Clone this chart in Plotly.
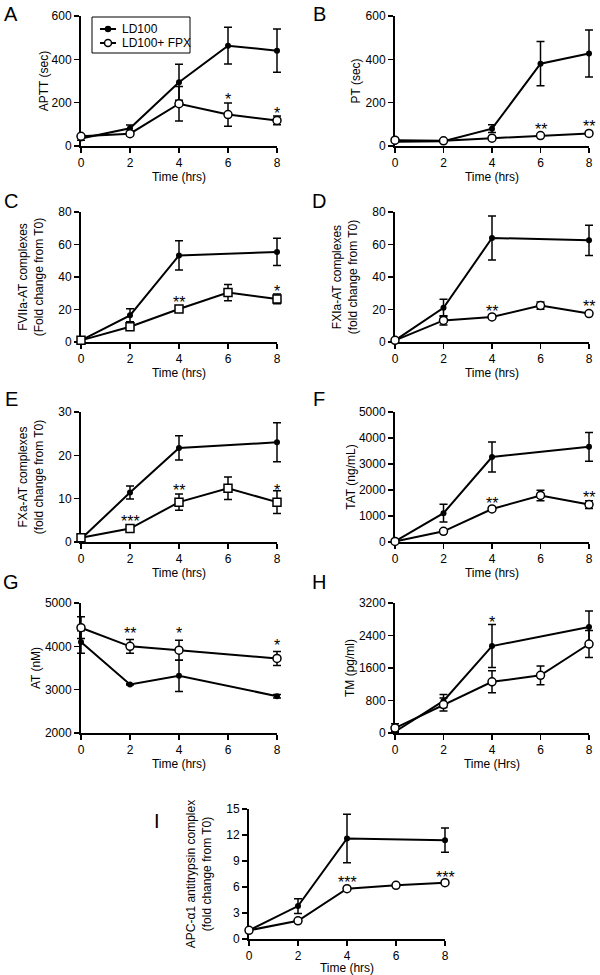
import plotly.graph_objects as go

# ---------------- data ----------------
t_all = [0, 2, 4, 6, 8]
t_no6 = [0, 2, 4, 8]
x_ticks = [0, 2, 4, 6, 8]

# A: APTT (sec)
aptt_ld = [35, 82, 294, 463, 440]
aptt_ld_err = [8, 15, 83, 85, 100]
aptt_fpx = [45, 57, 195, 145, 118]
aptt_fpx_err = [5, 8, 80, 54, 20]
aptt_star_t = [6, 8]
aptt_star_y = [227, 166]
aptt_star_txt = ["*", "*"]

# B: PT (sec)
pt_ld = [20, 22, 80, 380, 427]
pt_ld_err = [3, 3, 18, 102, 108]
pt_fpx = [27, 24, 36, 48, 58]
pt_fpx_err = [2, 2, 3, 3, 4]
pt_star_t = [6, 8]
pt_star_y = [92, 105]
pt_star_txt = ["**", "**"]

# C: FVIIa-AT complexes
fviia_ld = [1, 16.4, 53.3, 55.4]
fviia_ld_err = [0.5, 4, 9, 8.4]
fviia_fpx = [1, 9.4, 20.3, 30.4, 26.5]
fviia_fpx_err = [0.5, 1.5, 1, 5, 3]
fviia_star_t = [4, 8]
fviia_star_y = [26.3, 33]
fviia_star_txt = ["**", "*"]

# D: FXIa-AT complexes
fxia_ld = [1, 21, 64, 62.6]
fxia_ld_err = [0.5, 5.3, 13.5, 9.3]
fxia_fpx = [1, 13.3, 15.4, 22.4, 17.5]
fxia_fpx_err = [0.5, 2.8, 1, 2.2, 1]
fxia_star_t = [4, 8]
fxia_star_y = [20.9, 23.4]
fxia_star_txt = ["**", "**"]

# E: FXa-AT complexes
fxa_ld = [0.7, 11.4, 21.7, 23.0]
fxa_ld_err = [0.2, 1.5, 2.8, 4.5]
fxa_fpx = [1.0, 3.1, 9.2, 12.4, 9.2]
fxa_fpx_err = [0.2, 0.3, 1.9, 2.6, 2.6]
fxa_star_t = [2, 4, 8]
fxa_star_y = [5.5, 12.6, 12.6]
fxa_star_txt = ["***", "**", "*"]

# F: TAT (ng/mL)
tat_ld = [25, 1110, 3270, 3660]
tat_ld_err = [10, 340, 580, 550]
tat_fpx = [20, 410, 1270, 1790, 1440]
tat_fpx_err = [10, 40, 70, 200, 150]
tat_star_t = [4, 8]
tat_star_y = [1590, 1820]
tat_star_txt = ["**", "**"]

# G: AT (nM)
at_ld = [4100, 3120, 3320, 2850]
at_ld_err = [260, 15, 360, 40]
at_fpx = [4430, 4000, 3910, 3720]
at_fpx_err = [250, 160, 230, 160]
at_star_t = [2, 4, 8]
at_star_y = [4369, 4354, 4100]
at_star_txt = ["**", "*", "*"]

# H: TM (pg/ml)
tm_ld = [30, 790, 2140, 2610]
tm_ld_err = [20, 160, 530, 390]
tm_fpx = [120, 700, 1260, 1420, 2190]
tm_fpx_err = [110, 160, 270, 230, 330]
tm_star_t = [4]
tm_star_y = [2797]
tm_star_txt = ["*"]

# I: APC-a1 antitrypsin complex
apc_ld = [1.0, 3.8, 11.6, 11.4]
apc_ld_err = [0.1, 0.85, 2.8, 1.4]
apc_fpx = [1.0, 2.1, 5.8, 6.2, 6.5]
apc_fpx_err = [0.1, 0.1, 0.1, 0.1, 0.1]
apc_star_t = [4, 8]
apc_star_y = [6.85, 7.42]
apc_star_txt = ["***", "***"]

series_names = ["LD100", "LD100+ FPX"]

# ---------------- layout helpers ----------------
FW, FH = 600, 975
FONT = "Liberation Sans, Arial, Helvetica, sans-serif"
XPAD = 0.3  # extra x-range for the hidden data axis so error caps are not clipped


def px(x):
    return x / FW


def py(y):
    return 1 - y / FH


def xd(a, b):
    return [px(a), px(b)]


def yd(top, bottom):
    return [py(bottom), py(top)]


def padded(dom):
    ppu = (dom[1] - dom[0]) / 8.0
    return [dom[0] - XPAD * ppu, dom[1] + XPAD * ppu]


LEFT = xd(81, 277)
RIGHT = xd(395, 589)
MID = xd(249, 445)
ROWS = [yd(16, 146), yd(212, 342), yd(412, 542), yd(603, 733), yd(809, 939)]

panels = [
    dict(letter="A", lpos=(11, 14), xdom=LEFT, ydom=ROWS[0],
         ld_t=t_all, ld=aptt_ld, ld_err=aptt_ld_err,
         fx_t=t_all, fx=aptt_fpx, fx_err=aptt_fpx_err, sym="circle",
         yr=[0, 600], dt=200, ytitle="APTT (sec)", ys=0, xtitle="Time (hrs)",
         st=aptt_star_t, sy=aptt_star_y, stx=aptt_star_txt),
    dict(letter="B", lpos=(319, 14), xdom=RIGHT, ydom=ROWS[0],
         ld_t=t_all, ld=pt_ld, ld_err=pt_ld_err,
         fx_t=t_all, fx=pt_fpx, fx_err=pt_fpx_err, sym="circle",
         yr=[0, 600], dt=200, ytitle="PT (sec)", ys=2, xtitle="Time (hrs)",
         st=pt_star_t, sy=pt_star_y, stx=pt_star_txt),
    dict(letter="C", lpos=(11, 201), xdom=LEFT, ydom=ROWS[1],
         ld_t=t_no6, ld=fviia_ld, ld_err=fviia_ld_err,
         fx_t=t_all, fx=fviia_fpx, fx_err=fviia_fpx_err, sym="square",
         yr=[0, 80], dt=20,
         ytitle="FVIIa-AT complexes<br>(Fold change from T0)", ys=12, xtitle="Time (hrs)",
         st=fviia_star_t, sy=fviia_star_y, stx=fviia_star_txt),
    dict(letter="D", lpos=(319, 201), xdom=RIGHT, ydom=ROWS[1],
         ld_t=t_no6, ld=fxia_ld, ld_err=fxia_ld_err,
         fx_t=t_all, fx=fxia_fpx, fx_err=fxia_fpx_err, sym="circle",
         yr=[0, 80], dt=20,
         ytitle="FXIa-AT complexes<br>(fold change from T0)", ys=12, xtitle="Time (hrs)",
         st=fxia_star_t, sy=fxia_star_y, stx=fxia_star_txt),
    dict(letter="E", lpos=(11, 399), xdom=LEFT, ydom=ROWS[2],
         ld_t=t_no6, ld=fxa_ld, ld_err=fxa_ld_err,
         fx_t=t_all, fx=fxa_fpx, fx_err=fxa_fpx_err, sym="square",
         yr=[0, 30], dt=10,
         ytitle="FXa-AT complexes<br>(fold change from T0)", ys=12, xtitle="Time (hrs)",
         st=fxa_star_t, sy=fxa_star_y, stx=fxa_star_txt),
    dict(letter="F", lpos=(319, 399), xdom=RIGHT, ydom=ROWS[2],
         ld_t=t_no6, ld=tat_ld, ld_err=tat_ld_err,
         fx_t=t_all, fx=tat_fpx, fx_err=tat_fpx_err, sym="circle",
         yr=[0, 5000], dt=1000, ytitle="TAT (ng/mL)", ys=1, xtitle="Time (hrs)",
         st=tat_star_t, sy=tat_star_y, stx=tat_star_txt),
    dict(letter="G", lpos=(11, 582), xdom=LEFT, ydom=ROWS[3],
         ld_t=t_no6, ld=at_ld, ld_err=at_ld_err,
         fx_t=t_no6, fx=at_fpx, fx_err=at_fpx_err, sym="circle",
         yr=[2000, 5000], dt=1000, ytitle="AT (nM)", ys=2, xtitle="Time (hrs)",
         st=at_star_t, sy=at_star_y, stx=at_star_txt),
    dict(letter="H", lpos=(319, 582), xdom=RIGHT, ydom=ROWS[3],
         ld_t=t_no6, ld=tm_ld, ld_err=tm_ld_err,
         fx_t=t_all, fx=tm_fpx, fx_err=tm_fpx_err, sym="circle",
         yr=[0, 3200], dt=800, ytitle="TM (pg/ml)", ys=2, xtitle="Time (Hrs)",
         st=tm_star_t, sy=tm_star_y, stx=tm_star_txt),
    dict(letter="I", lpos=(157, 821), xdom=MID, ydom=ROWS[4],
         ld_t=t_no6, ld=apc_ld, ld_err=apc_ld_err,
         fx_t=t_all, fx=apc_fpx, fx_err=apc_fpx_err, sym="circle",
         yr=[0, 15], dt=3,
         ytitle="APC-α1 antitrypsin complex<br>(fold change from T0)", ys=12, xtitle="Time (hrs)",
         st=apc_star_t, sy=apc_star_y, stx=apc_star_txt),
]

NP = len(panels)
fig = go.Figure()
annotations = []
shapes = []
layout = {}

axis_common = dict(
    showline=True, linecolor="black", linewidth=2,
    ticks="outside", ticklen=5, tickwidth=1.5, tickcolor="black",
    showgrid=False, zeroline=False, automargin=False, layer="below traces",
    tickfont=dict(family=FONT, size=12, color="black"),
)
err_style = dict(type="data", thickness=1.5, width=4, color="black")
ld_marker = dict(symbol="circle", size=6, color="black")

for i, p in enumerate(panels):
    n = "" if i == 0 else str(i + 1)
    hn = str(i + 1 + NP)
    xa, ya, hx = "x" + n, "y" + n, "x" + hn
    fig.add_trace(go.Scatter(
        x=p["ld_t"], y=p["ld"], xaxis=hx, yaxis=ya,
        mode="lines+markers", name=series_names[0],
        line=dict(color="black", width=2), marker=ld_marker,
        error_y=dict(array=p["ld_err"], **err_style),
        cliponaxis=False, showlegend=False,
    ))
    fig.add_trace(go.Scatter(
        x=p["fx_t"], y=p["fx"], xaxis=hx, yaxis=ya,
        mode="lines+markers", name=series_names[1],
        line=dict(color="black", width=2),
        marker=dict(symbol=p["sym"], size=8, color="white",
                    line=dict(color="black", width=1.5)),
        error_y=dict(array=p["fx_err"], **err_style),
        cliponaxis=False, showlegend=False,
    ))
    layout["xaxis" + n] = dict(
        domain=p["xdom"], anchor=ya, range=[0, 8], tickvals=x_ticks,
        title=dict(text=p["xtitle"], font=dict(family=FONT, size=12, color="black"), standoff=0),
        **axis_common)
    layout["xaxis" + hn] = dict(
        domain=padded(p["xdom"]), anchor=ya, range=[-XPAD, 8 + XPAD],
        visible=False, automargin=False, showgrid=False, zeroline=False)
    layout["yaxis" + n] = dict(
        domain=p["ydom"], anchor=xa, range=p["yr"], dtick=p["dt"], tick0=p["yr"][0],
        title=dict(text=p["ytitle"], font=dict(family=FONT, size=12, color="black"),
                   standoff=p["ys"]),
        **axis_common)
    for tx, ty, txt in zip(p["st"], p["sy"], p["stx"]):
        annotations.append(dict(
            x=tx, y=ty, xref=xa, yref=ya, text=txt, showarrow=False,
            font=dict(family=FONT, size=16, color="black"),
            xanchor="center", yanchor="middle", yshift=-3))
    lx, ly = p["lpos"]
    annotations.append(dict(
        x=px(lx), y=py(ly), xref="paper", yref="paper", text=p["letter"],
        showarrow=False, xanchor="center", yanchor="middle",
        font=dict(family=FONT, size=20, color="black")))

# ---- legend box (panel A) ----
shapes.append(dict(type="rect", xref="paper", yref="paper",
                   x0=px(92), x1=px(190), y0=py(53), y1=py(17),
                   line=dict(color="black", width=1), fillcolor="white", layer="above"))
for k, (ey, name) in enumerate(zip([29, 43], series_names)):
    shapes.append(dict(type="line", xref="paper", yref="paper",
                       x0=px(100), x1=px(116), y0=py(ey), y1=py(ey),
                       line=dict(color="black", width=2), layer="above"))
    r = 2.5 if k == 0 else 3.5
    shapes.append(dict(type="circle", xref="paper", yref="paper",
                       x0=px(108 - r), x1=px(108 + r), y0=py(ey + r), y1=py(ey - r),
                       line=dict(color="black", width=1.5),
                       fillcolor="black" if k == 0 else "white", layer="above"))
    annotations.append(dict(x=px(120), y=py(ey), xref="paper", yref="paper",
                            text=name, showarrow=False, xanchor="left", yanchor="middle",
                            font=dict(family=FONT, size=12, color="black")))

fig.update_layout(
    width=FW, height=FH,
    margin=dict(l=0, r=0, t=0, b=0, autoexpand=False),
    paper_bgcolor="white", plot_bgcolor="rgba(0,0,0,0)",
    font=dict(family=FONT, size=12, color="black"),
    annotations=annotations, shapes=shapes, showlegend=False,
    **layout,
)

# place the figure at the window's top-left corner (remove the default 8px body margin)
fig.write_html("out.html", config={"displayModeBar": False, "staticPlot": True},
               post_script="document.body.style.margin='0px';")
